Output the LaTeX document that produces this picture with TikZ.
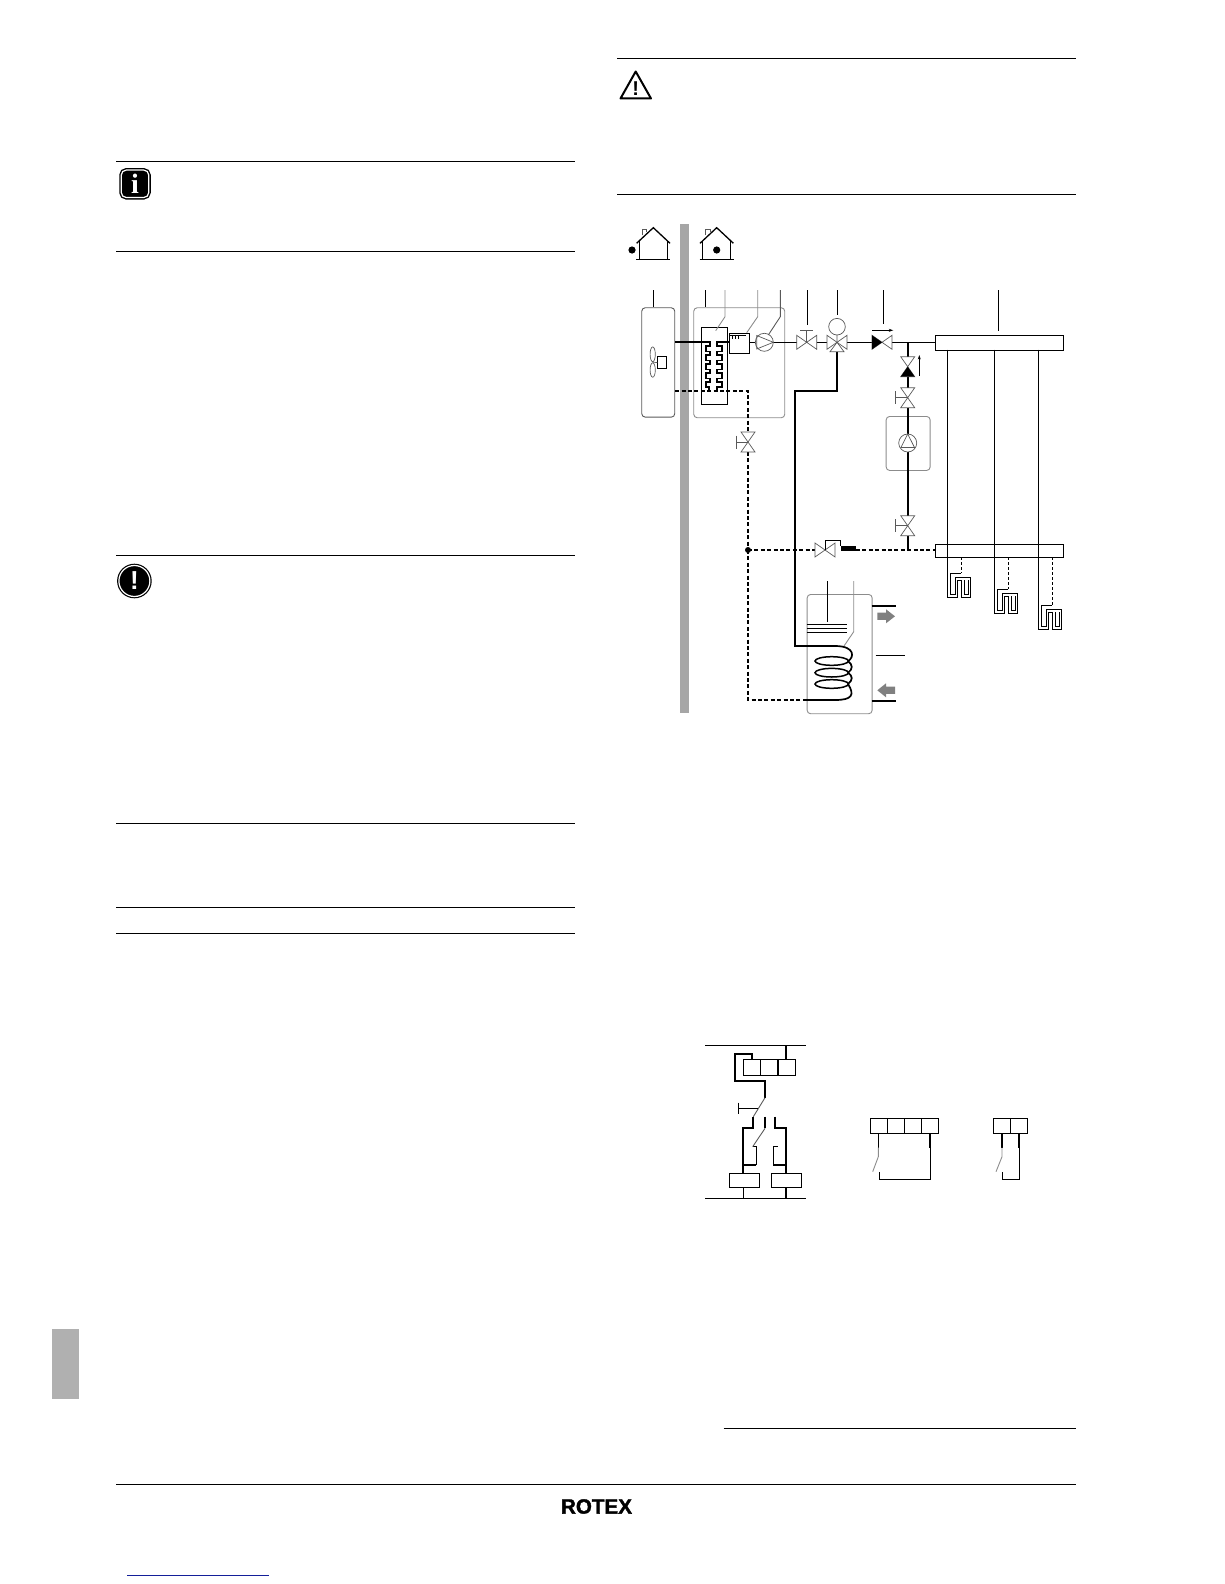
\documentclass[tikz,border=0pt]{standalone}
\usepackage{fontspec}
\setmainfont{Liberation Sans}
\newfontfamily\logofont[FakeBold=1.6]{Liberation Sans Bold}
\newfontfamily\iconfont{Liberation Serif Bold}
\usetikzlibrary{arrows.meta}
\definecolor{barcol}{gray}{0.65}
\definecolor{tabcol}{gray}{0.69}
\definecolor{boxcol}{gray}{0.55}
\definecolor{valvecol}{gray}{0.35}
\definecolor{arrowcol}{gray}{0.5}
\definecolor{linkcol}{rgb}{0.08,0.12,0.6}
\tikzset{
    thinline/.style={line width=0.9pt, black},
    greyline/.style={line width=0.9pt, boxcol},
    pipe/.style={line width=1.7pt, black},
    dashpipe/.style={line width=1.7pt, black, dash pattern=on 4pt off 2.4pt},
    valveline/.style={line width=0.7pt, valvecol},
    rule/.style={line width=1.1pt, black},
    boxnode/.style={draw, inner sep=0pt, anchor=north west, line width=0.9pt},
    softbox/.style={boxnode, rounded corners=3.5pt},
    cell/.style={boxnode, minimum width=17pt, minimum height=16pt, line width=1pt},
    pics/bowtieh/.style={code={\draw[valveline] (-10,-7) -- (10,7) -- (10,-7) -- (-10,7) -- cycle;}},
    pics/bowtiev/.style={code={\draw[valveline] (-7,-10) -- (7,10) -- (-7,10) -- (7,-10) -- cycle;}},
    pics/handleleft/.style={code={\draw[valveline, line width=0.9pt] (0,0) -- (-12,0) (-12,-6.5) -- (-12,6.5);}},
    pics/handleup/.style={code={\draw[valveline, line width=0.9pt] (0,0) -- (0,-12) (-6.5,-12) -- (6.5,-12);}},
}
\begin{document}
\begin{tikzpicture}[x=1pt, y=-1pt]
    \useasboundingbox (0,0) rectangle (1224,1584);

    % Page rules and side tab
    \foreach \ry in {161.7, 251.6, 555.8, 823.6, 907.4, 933.7}
        \draw[rule] (116,\ry) -- (575,\ry);
    \foreach \ry in {58.6, 194.5}
        \draw[rule] (617.4,\ry) -- (1076,\ry);
    \draw[rule] (723.5,1428.5) -- (1076,1428.5);
    \draw[rule] (116,1484.3) -- (1076,1484.3);
    \fill[tabcol] (52,1329) rectangle (79,1399);
    \draw[linkcol, line width=1pt] (127,1575.3) -- (269,1575.3);
    \node[inner sep=0pt] (logo) at (596.5,1506.5)
        {\logofont\fontsize{20.6}{22}\selectfont ROTEX};

    % Notice icons
    \node[draw, fill=black, double=white, line width=1.4pt, double distance=1.2pt, rounded corners=5pt,
        minimum size=27.5pt, inner sep=0pt, text=white, font=\iconfont\fontsize{28}{28}\selectfont] (infoicon) at (135,183.8) {i};
    \node[circle, draw, fill=black, double=white, line width=1.2pt, double distance=1.2pt,
        minimum size=31pt, inner sep=0pt, text=white, font=\bfseries\fontsize{26}{26}\selectfont] (stopicon) at (134.4,581) {!};
    \draw[line width=2pt, line join=round] (635.7,71.5) -- (651,98.5) -- (620.5,98.5) -- cycle;
    \node[inner sep=0pt, font=\bfseries\fontsize{20}{20}\selectfont] (warnicon) at (635.8,88.5) {!};

    % Wall between outside and inside
    \fill[barcol] (680,224) rectangle (689,712.7);

    % Houses
    \foreach \hx/\dotx in {653.3/632, 716.7/716.7} {
        \draw[line width=1.3pt] (\hx-16.7,243.3) -- (\hx,227.7) -- (\hx+16.7,243.3);
        \draw[line width=0.9pt] (\hx-14,241) -- (\hx-14,259.3) (\hx+14,241) -- (\hx+14,259.3);
        \draw[line width=1.1pt] (\hx-17,259.3) -- (\hx+17,259.3);
        \draw[valveline, line width=0.9pt] (\hx-11,235) -- (\hx-11,229) -- (\hx-6.6,229) -- (\hx-6.6,231.5);
        \fill (\dotx,250) circle (3.6);
    }

    % Boxes
    \node[softbox, minimum width=33pt, minimum height=109.4pt, draw=valvecol] (outdoor) at (641.3,307.3) {};
    \node[softbox, minimum width=91pt, minimum height=110pt, draw=boxcol] (indoor) at (693.3,307.3) {};
    \node[boxnode, minimum width=25.4pt, minimum height=77pt] (exchanger) at (701.3,327.3) {};
    \node[boxnode, minimum width=19.4pt, minimum height=19.4pt] (control) at (729.3,333.3) {};
    \node[softbox, minimum width=44pt, minimum height=54pt, draw=boxcol] (pumpbox) at (885.7,416) {};
    \node[boxnode, minimum width=127.4pt, minimum height=14.4pt] (mantop) at (935.3,335.3) {};
    \node[boxnode, minimum width=127.4pt, minimum height=13pt] (manbot) at (935.3,544.3) {};
    \node[softbox, minimum width=65pt, minimum height=119.3pt, draw=boxcol] (tank) at (806.7,594) {};

    % Fan and motor
    \draw[valveline] (652.7,354.3) ellipse (2.6 and 7.4);
    \draw[valveline] (652.7,370) ellipse (2.6 and 7.2);
    \node[boxnode, minimum width=8.4pt, minimum height=12.4pt, line width=0.7pt] (fanmotor) at (657.3,356) {};
    \draw[valveline] (652.7,362.2) -- (fanmotor.west);

    % Leaders
    \draw[thinline] (653.3,290) -- (653.3,307.3);
    \draw[thinline] (705.3,290) -- (705.3,307.3);
    \draw[greyline] (725,290) -- (725,316.7) -- (715.7,330.7);
    \draw[greyline] (757.7,290) -- (757.7,316.7) -- (746.7,332.7);
    \draw[valveline, line width=0.9pt] (780.3,290) -- (780.3,316.7) -- (768.3,335);
    \draw[thinline] (807.3,290) -- (807.3,325);
    \draw[thinline] (837.3,290) -- (837.3,315);
    \draw[thinline] (883.3,290) -- (883.3,324.3);
    \draw[thinline] (998.3,290) -- (998.3,330.7);
    \draw[thinline] (827.7,581) -- (827.7,621.7);
    \draw[greyline] (853.7,581) -- (853.7,631.7) -- (844,646);

    % Valve positions
    \coordinate (stopA) at (806.7,342.3);
    \coordinate (threeway) at (837,342.3);
    \coordinate (checkA) at (882,342.3);
    \coordinate (checkB) at (907.7,366.7);
    \coordinate (stopB) at (907.7,397.7);
    \coordinate (stopC) at (907.7,525.7);
    \coordinate (stopD) at (748,442);
    \coordinate (mixer) at (825,550);
    \coordinate (circpump) at (907.7,443);
    \coordinate (heatpump) at (764.3,342.3);

    % Pipes
    \draw[pipe] (outdoor.east |- heatpump) -- (706.7,342.3);
    \draw[pipe, line join=miter] (705.7,342.3) -- (710,342.3) -- (710,346) -- (705.7,346) -- (705.7,351.5) -- (710,351.5) -- (710,355) -- (705.7,355)
        -- (705.7,360.5) -- (710,360.5) -- (710,364) -- (705.7,364) -- (705.7,369.5) -- (710,369.5) -- (710,373) -- (705.7,373)
        -- (705.7,378.5) -- (710,378.5) -- (710,382) -- (705.7,382) -- (705.7,387) -- (709,387) -- (709,391);
    \draw[pipe, line join=miter] (control.west |- heatpump) -- (717.3,342.3) -- (717.3,346) -- (721.7,346) -- (721.7,351.5) -- (717.3,351.5) -- (717.3,355) -- (721.7,355)
        -- (721.7,360.5) -- (717.3,360.5) -- (717.3,364) -- (721.7,364) -- (721.7,369.5) -- (717.3,369.5) -- (717.3,373) -- (721.7,373)
        -- (721.7,378.5) -- (717.3,378.5) -- (717.3,382) -- (721.7,382) -- (721.7,387) -- (717.3,387) -- (717.3,391);
    \draw[thinline] (control.east |- heatpump) -- (755.3,342.3);
    \draw[thinline] (773.3,342.3) -- (796.7,342.3);
    \draw[thinline] (816.7,342.3) -- (827,342.3);
    \draw[thinline] (847,342.3) -- (872,342.3);
    \draw[thinline] (892,342.3) -- (mantop.west |- heatpump);
    \draw[pipe] (837.3,351.7) -- (837.3,390.7) -- (795,390.7) -- (795,646) -- (835,646);
    \draw[pipe] (907.7,342.3) -- (907.7,356.7);
    \draw[pipe] (907.7,376.7) -- (907.7,387.7);
    \draw[pipe] (907.7,407.7) -- (907.7,434);
    \draw[pipe] (907.7,452) -- (907.7,515.7);
    \draw[pipe] (907.7,535.7) -- (907.7,550);

    % Dashed return lines
    \coordinate (junction) at (748,550);
    \draw[dashpipe] (outdoor.east |- 0,391) -- (748,391) -- (748,432);
    \draw[dashpipe] (748,452) -- (junction);
    \draw[dashpipe] (junction) -- (815,550);
    \draw[dashpipe] (856,550) -- (manbot.west |- junction);
    \draw[dashpipe] (junction) -- (748,700) -- (806.7,700);
    \fill (junction) circle (3);

    % Coil in the tank
    \draw[pipe] (835,646) .. controls (856,646) and (854,658) .. (848,661);
    \foreach \cy in {661, 672.7, 684}
        \draw[line width=1.5pt] (831.7,\cy) ellipse (16.7 and 4.3);
    \draw[pipe] (848,661) .. controls (853,665) and (853,669) .. (848,672.7);
    \draw[pipe] (848,672.7) .. controls (853,676) and (853,680) .. (848,684);
    \draw[pipe] (848,684) .. controls (855,695) and (852,700) .. (835,700) -- (806.7,700);
    \foreach \ly in {624.3, 628.3, 632.3}
        \draw[line width=1.3pt] (806.7,\ly) -- (847.3,\ly);

    % Tank connections and arrows
    \draw[pipe] (871.7,606) -- (896,606);
    \draw[pipe] (871.7,701) -- (896,701);
    \draw[thinline] (875.7,655.7) -- (905.3,655.7);
    \fill[arrowcol] (877.3,612.7) -- (886,612.7) -- (886,609.3) -- (895,616.3) -- (886,623.3) -- (886,619.9) -- (877.3,619.9) -- cycle;
    \fill[arrowcol] (895,686.7) -- (886,686.7) -- (886,683.3) -- (877.3,690.3) -- (886,697.3) -- (886,693.9) -- (895,693.9) -- cycle;

    % Valves
    \pic at (stopA) {bowtieh};
    \pic at (stopA) {handleup};
    \pic at (threeway) {bowtieh};
    \draw[valveline] (threeway) -- (830,351.7) -- (844,351.7) -- cycle;
    \draw[valveline] (threeway) -- (837,335) (837,326.7) circle (8.3);
    \pic at (checkA) {bowtieh};
    \fill[black] (872,335.3) -- (882,342.3) -- (872,349.3) -- cycle;
    \pic at (checkB) {bowtiev};
    \fill[black] (900.7,376.7) -- (907.7,366.7) -- (914.7,376.7) -- cycle;
    \pic at (stopB) {bowtiev};
    \pic at (stopB) {handleleft};
    \pic at (stopC) {bowtiev};
    \pic at (stopC) {handleleft};
    \pic at (stopD) {bowtiev};
    \pic at (stopD) {handleleft};
    \pic at (mixer) {bowtieh};
    \draw[thinline] (mixer) -- (825,540.7) -- (840.7,540.7) -- (840.7,546);
    \fill[black] (840.7,546) rectangle (856,550.7);

    % Flow direction arrows
    \draw[thinline, -{Stealth[length=4.5pt, width=3pt]}] (872,330.3) -- (893.3,330.3);
    \draw[thinline, -{Stealth[length=4.5pt, width=3pt]}] (919.3,376) -- (919.3,355);

    % Pumps
    \draw[valveline] (heatpump) circle (9);
    \draw[valveline] (756.7,335.5) -- (773.3,342.3) -- (756.7,349) -- cycle;
    \draw[valveline] (circpump) circle (9);
    \draw[valveline] (907.7,434) -- (914.5,447.5) -- (900.9,447.5) -- cycle;

    % Control box comb
    \draw[thinline] (732,334.8) -- (732,339) (735,334.8) -- (735,339) (738,334.8) -- (738,339) (730,335) -- (746,335);

    % Heating circuits and floor loops
    \foreach \lx/\ly in {0/0, 47/16, 91/32} {
        \draw[thinline] (947.3+\lx,349.7) -- (947.3+\lx,597.3+\ly) -- (957.7+\lx,597.3+\ly) -- (957.7+\lx,580+\ly) -- (961.7+\lx,580+\ly)
            -- (961.7+\lx,597.3+\ly) -- (970.7+\lx,597.3+\ly) -- (970.7+\lx,577.7+\ly) -- (955+\lx,577.7+\ly) -- (955+\lx,594.5+\ly)
            -- (950+\lx,594.5+\ly) -- (950+\lx,573.3+\ly) -- (961.3+\lx,573.3+\ly);
        \draw[thinline] (964.7+\lx,580+\ly) -- (964.7+\lx,594.5+\ly) -- (968+\lx,594.5+\ly) -- (968+\lx,580+\ly);
        \draw[thinline, dashed, dash pattern=on 3pt off 2pt] (961.3+\lx,557.3) -- (961.3+\lx,573.3+\ly);
    }

    % Wiring: top bus and terminals
    \draw[thinline, line width=1pt] (705,1045.3) -- (806,1045.3);
    \draw[thinline, line width=1pt] (705,1198.3) -- (806,1198.3);
    \foreach \cx in {743.3, 760.4, 777.5}
        \node[cell] at (\cx,1059.3) {};
    \foreach \cx in {870.3, 887.3, 904.3, 921.3}
        \node[cell, minimum height=15pt] at (\cx,1118.3) {};
    \foreach \cx in {993.3, 1010.3}
        \node[cell, minimum height=15pt] at (\cx,1118.3) {};
    \node[boxnode, minimum width=29.4pt, minimum height=14pt, line width=1pt] (relayA) at (729.3,1173.3) {};
    \node[boxnode, minimum width=29.4pt, minimum height=14pt, line width=1pt] (relayB) at (771.3,1173.3) {};

    \draw[pipe] (786,1045.3) -- (786,1059.3);
    \draw[pipe, line join=miter] (752.3,1059.3) -- (752.3,1054) -- (734.7,1054) -- (734.7,1081) -- (765,1081) -- (765,1097.7);
    \draw[valveline, line width=0.9pt] (765,1097.7) -- (753.3,1116.7);
    \draw[thinline] (738.3,1108.3) -- (758.3,1108.3) (738.3,1102.7) -- (738.3,1114);
    \draw[pipe, line join=miter] (753.3,1116.7) -- (753.3,1127.7) -- (743.3,1127.7) -- (743.3,1173.3);
    \draw[pipe, line join=miter] (743.3,1165) -- (756,1165);
    \draw[thinline] (756,1165) -- (756,1146.7) -- (752.7,1146.7);
    \draw[valveline, line width=0.9pt] (752.7,1146.7) -- (765,1128.3);
    \draw[pipe] (765,1116.7) -- (765,1128.3);
    \draw[pipe, line join=miter] (775,1116.7) -- (775,1127.7) -- (786,1127.7) -- (786,1173.3);
    \draw[pipe, line join=miter] (786,1165) -- (773.3,1165);
    \draw[thinline] (773.3,1165) -- (773.3,1146.7) -- (777.7,1146.7);
    \draw[thinline] (743.3,1187.3) -- (743.3,1198.3);
    \draw[pipe] (786,1187.3) -- (786,1198.3);

    % Wiring: remote contacts
    \draw[thinline] (878.3,1133.3) -- (878.3,1147.7);
    \draw[greyline] (878.3,1147.7) -- (878.3,1156.7) -- (872.7,1171.7);
    \draw[thinline] (879.3,1172.3) -- (879.3,1179) -- (930,1179) -- (930,1147.7);
    \draw[pipe] (930,1147.7) -- (930,1133.3);
    \draw[pipe] (1002,1133.3) -- (1002,1147.7);
    \draw[greyline] (1002,1147.7) -- (1002,1156.7) -- (996,1171.7);
    \draw[thinline] (1002.7,1172.3) -- (1002.7,1179) -- (1019,1179) -- (1019,1147.7);
    \draw[pipe] (1019,1147.7) -- (1019,1133.3);
\end{tikzpicture}
\end{document}
